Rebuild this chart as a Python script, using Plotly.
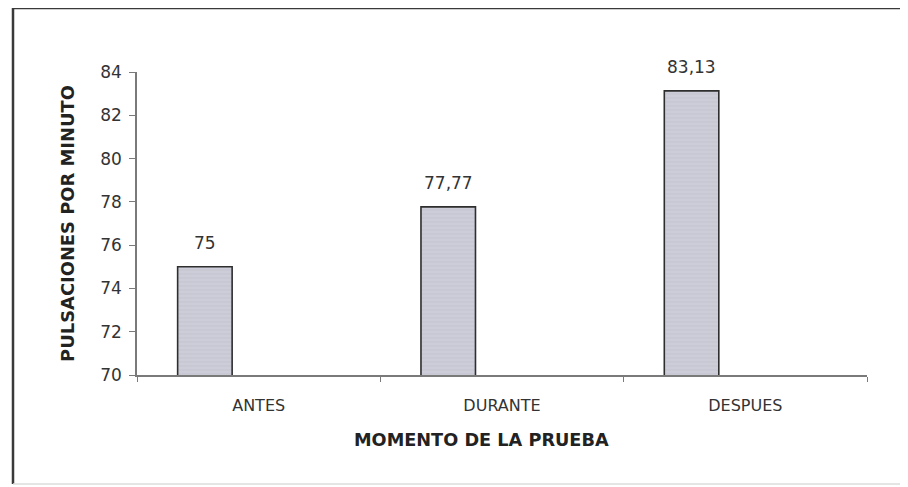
import plotly.graph_objects as go

categories = ["ANTES", "DURANTE", "DESPUES"]
values = [75, 77.77, 83.13]
y_ticks = [70, 72, 74, 76, 78, 80, 82, 84]

bar_offset = -0.333
bar_width = 0.224

labels = [f"{v:g}".replace(".", ",") for v in values]

fig = go.Figure()
fig.add_trace(go.Bar(
    x=categories, y=values,
    offset=bar_offset, width=bar_width,
    marker=dict(
        color="#cdcdda",
        line=dict(color="#2e2e2e", width=1.6),
        pattern=dict(shape="-", fgcolor="#b9b9c4", size=4, solidity=0.25),
    ),
    showlegend=False,
))

# page body has an 8px margin: work in figure coordinates
OFF = 8
W, H = 908 - OFF, 487 - OFF
L, T = 137 - OFF, 72 - OFF
R = W - (867 - OFF)
B = H - (375 - OFF)
pw, ph = W - L - R, H - T - B

def px(x):
    return (x - OFF - L) / pw

def py(y):
    return (H - B - (y - OFF)) / ph

annotations = []
for i, (v, t) in enumerate(zip(values, labels)):
    annotations.append(dict(
        x=i + bar_offset + bar_width / 2, y=v, xref="x", yref="y",
        text=t, showarrow=False, yshift=24,
        font=dict(family="DejaVu Sans", size=17, color="#333333"),
    ))
annotations.append(dict(
    x=px(481), y=py(440), xref="paper", yref="paper",
    text="<b>MOMENTO DE LA PRUEBA</b>", showarrow=False,
    xanchor="center", yanchor="middle",
    font=dict(family="DejaVu Sans", size=17.7, color="#222222"),
))

shapes = [
    dict(type="line", xref="paper", yref="paper", x0=px(12), x1=px(906), y0=py(8), y1=py(8),
         line=dict(color="#3a3a3a", width=2.5)),
    dict(type="line", xref="paper", yref="paper", x0=px(13), x1=px(13), y0=py(7), y1=py(484),
         line=dict(color="#3a3a3a", width=2.5)),
    dict(type="line", xref="paper", yref="paper", x0=px(13), x1=px(906), y0=py(484), y1=py(484),
         line=dict(color="#dcdcdc", width=1.5)),
    dict(type="line", xref="paper", yref="paper", x0=px(904), x1=px(904), y0=py(8), y1=py(484),
         line=dict(color="#eeeeee", width=1.5)),
]

fig.update_layout(
    width=W, height=H,
    margin=dict(l=L, r=R, t=T, b=B),
    paper_bgcolor="white", plot_bgcolor="white",
    annotations=annotations,
    shapes=shapes,
    font=dict(family="DejaVu Sans", color="#333333"),
)

fig.update_xaxes(
    showline=True, linecolor="#7a7a7a", linewidth=1.5,
    ticks="outside", tickson="boundaries", ticklen=5, tickcolor="#7a7a7a",
    tickfont=dict(family="DejaVu Sans", size=16, color="#333333"),
    ticklabelstandoff=15,
    showgrid=False, zeroline=False,
)
fig.update_yaxes(
    range=[70, 84], tickvals=y_ticks,
    showline=True, linecolor="#7a7a7a", linewidth=1.5,
    ticks="outside", ticklen=6, tickcolor="#7a7a7a",
    tickfont=dict(family="DejaVu Sans", size=17, color="#333333"),
    ticklabelstandoff=4,
    title=dict(text="<b>PULSACIONES POR MINUTO</b>", standoff=21,
               font=dict(family="DejaVu Sans", size=17.9, color="#222222")),
    showgrid=False, zeroline=False,
)

fig.write_html("out.html")
